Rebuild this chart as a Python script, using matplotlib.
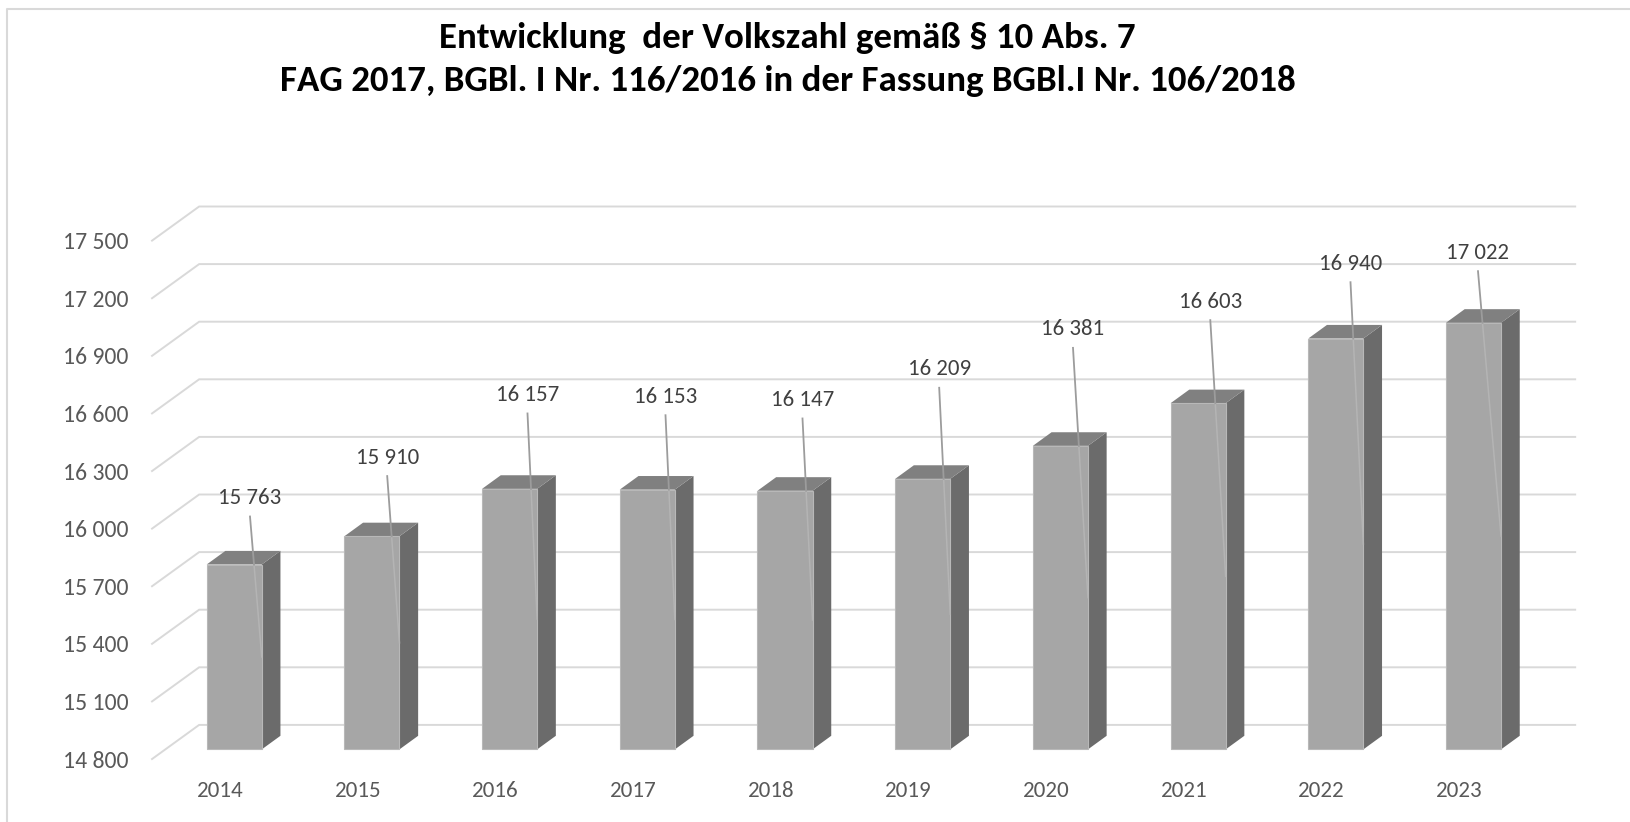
import matplotlib
matplotlib.use("Agg")
import matplotlib.pyplot as plt
from matplotlib import font_manager as fm
from matplotlib.lines import Line2D

# ---------------- data ----------------
years = ["2014", "2015", "2016", "2017", "2018", "2019", "2020", "2021", "2022", "2023"]
values = [15763, 15910, 16157, 16153, 16147, 16209, 16381, 16603, 16940, 17022]
y_ticks = [14800, 15100, 15400, 15700, 16000, 16300, 16600, 16900, 17200, 17500]
title_lines = ["Entwicklung  der Volkszahl gemäß § 10 Abs. 7",
               "FAG 2017, BGBl. I Nr. 116/2016 in der Fassung BGBl.I Nr. 106/2018"]

# ---------------- layout (pixels) ----------------
label_dx = [15.8, 15.3, 17.9, 18.2, 17.5, 16.5, 12.6, 12.2, 14.7, 4.5]
label_rise = [66.5, 78.7, 93.9, 92.9, 90.8, 109.6, 116.5, 101.6, 74.8, 70.1]

W, H = 1630, 822
CAT_PX = 137.7      # pixels per category
UNIT_PX = 0.192     # pixels per unit of value
BASE = 14800
P0 = 165.35         # left edge of the bar plane (px)
BASE_Y = 749.4      # y pixel (from top) of base in bar plane
BACK = (33.8, -24.5)
FRONT = (-14.1, 10.2)
DEPTH = (18.7, -13.6)
BAR_W = 0.4

GRID = "#d9d9d9"
FRONT_C = "#a6a6a6"
SIDE_C = "#6b6b6b"
TOP_C = "#808080"


def pick(names):
    for n in names:
        try:
            fm.findfont(fm.FontProperties(family=n), fallback_to_default=False)
            return n
        except Exception:
            pass
    return "DejaVu Sans"


num_font = pick(["Carlito", "Lato", "Open Sans", "DejaVu Sans"])
title_font = pick(["Carlito", "Liberation Sans Narrow", "Lato", "DejaVu Sans"])


def x_of_px(p):
    return (p - P0) / CAT_PX - 0.5


def v_of_py(p):
    return BASE + (BASE_Y - p) / UNIT_PX


def off(x, v, dxp, dyp):
    # pixel offset (x right, y down) -> data coords
    return (x + dxp / CAT_PX, v - dyp / UNIT_PX)


fig = plt.figure(figsize=(W / 100, H / 100), dpi=100)
ax = fig.add_axes([0, 0, 1, 1])
ax.set_xlim(x_of_px(0), x_of_px(W))
ax.set_ylim(v_of_py(H), v_of_py(0))
ax.axis("off")

# outer border
fig.add_artist(Line2D([6.7 / W, 6.7 / W, 1.0], [0, 1 - 9.5 / H, 1 - 9.5 / H],
                      transform=fig.transFigure, color=GRID, lw=1.5))

# gridlines (side wall + back wall) and y labels
n = len(years)
tick_texts = []
for t in y_ticks:
    fl = off(-0.5, t, *FRONT)
    bl = off(-0.5, t, *BACK)
    br = off(n - 0.5, t, *BACK)
    ax.plot([fl[0], bl[0], br[0]], [fl[1], bl[1], br[1]], color=GRID, lw=1.4,
            zorder=1, solid_joinstyle="miter", solid_capstyle="butt")
    lab = f"{t:,}".replace(",", " ")
    tp = off(-0.5, t, FRONT[0] - 23, FRONT[1] + 1.5)
    tick_texts.append(ax.text(tp[0], tp[1], lab, ha="right", va="center",
                              color="#595959", family=num_font, fontsize=12))

# bars
ax.bar(range(n), [v - BASE for v in values], bottom=BASE, width=BAR_W,
       color=FRONT_C, edgecolor="#b8b8b8", linewidth=0.8, zorder=4)
for i, v in enumerate(values):
    x0, x1 = i - BAR_W / 2, i + BAR_W / 2
    side = [(x1, BASE), (x1, v), off(x1, v, *DEPTH), off(x1, BASE, *DEPTH)]
    top = [(x0, v), (x1, v), off(x1, v, *DEPTH), off(x0, v, *DEPTH)]
    ax.fill([p[0] for p in side], [p[1] for p in side], color=SIDE_C, zorder=3, lw=0)
    ax.fill([p[0] for p in top], [p[1] for p in top], color=TOP_C, zorder=3, lw=0)

# data labels with leader lines
data_texts = []
for i, v in enumerate(values):
    lp = off(i, v, label_dx[i], -label_rise[i])
    data_texts.append(ax.text(lp[0], lp[1], f"{v:,}".replace(",", " "), ha="center",
                              va="center", color="#404040", family=num_font,
                              fontsize=12, zorder=6))
    a = off(i, v, label_dx[i], -label_rise[i] + 18.5)
    b = (i + BAR_W / 2, (v + BASE) / 2)
    tt = (v - a[1]) / (b[1] - a[1])
    m = (a[0] + tt * (b[0] - a[0]), v)
    ax.plot([m[0], b[0]], [m[1], b[1]], color="#b4b4b4", lw=1.1, zorder=5)
    ax.plot([a[0], m[0]], [a[1], m[1]], color="#9c9c9c", lw=1.3, zorder=5)

# category labels
cat_texts = []
for i, y in enumerate(years):
    cp = off(i, BASE, FRONT[0], 41.6)
    cat_texts.append(ax.text(cp[0], cp[1], y, ha="center", va="center",
                             color="#595959", family=num_font, fontsize=12))

# title
t1 = fig.text(787 / W, 1 - 38.5 / H, title_lines[0], ha="center", va="center",
              fontweight="bold", family=title_font, fontsize=20, color="black")
t2 = fig.text(788 / W, 1 - 81 / H, title_lines[1], ha="center", va="center",
              fontweight="bold", family=title_font, fontsize=20, color="black")

# fit text sizes to the reference widths
fig.canvas.draw()
r = fig.canvas.get_renderer()


def fit_group(texts, ref, target):
    w = ref.get_window_extent(r).width
    s = ref.get_fontsize() * target / w
    for t in texts:
        t.set_fontsize(s)


fit_group(tick_texts, tick_texts[-1], 65.0)
fit_group(data_texts, data_texts[0], 63.3)
fit_group(cat_texts, cat_texts[0], 46.7)
fit_group([t1, t2], t2, 1018.0)

fig.savefig("out.png", dpi=100, facecolor="white")
